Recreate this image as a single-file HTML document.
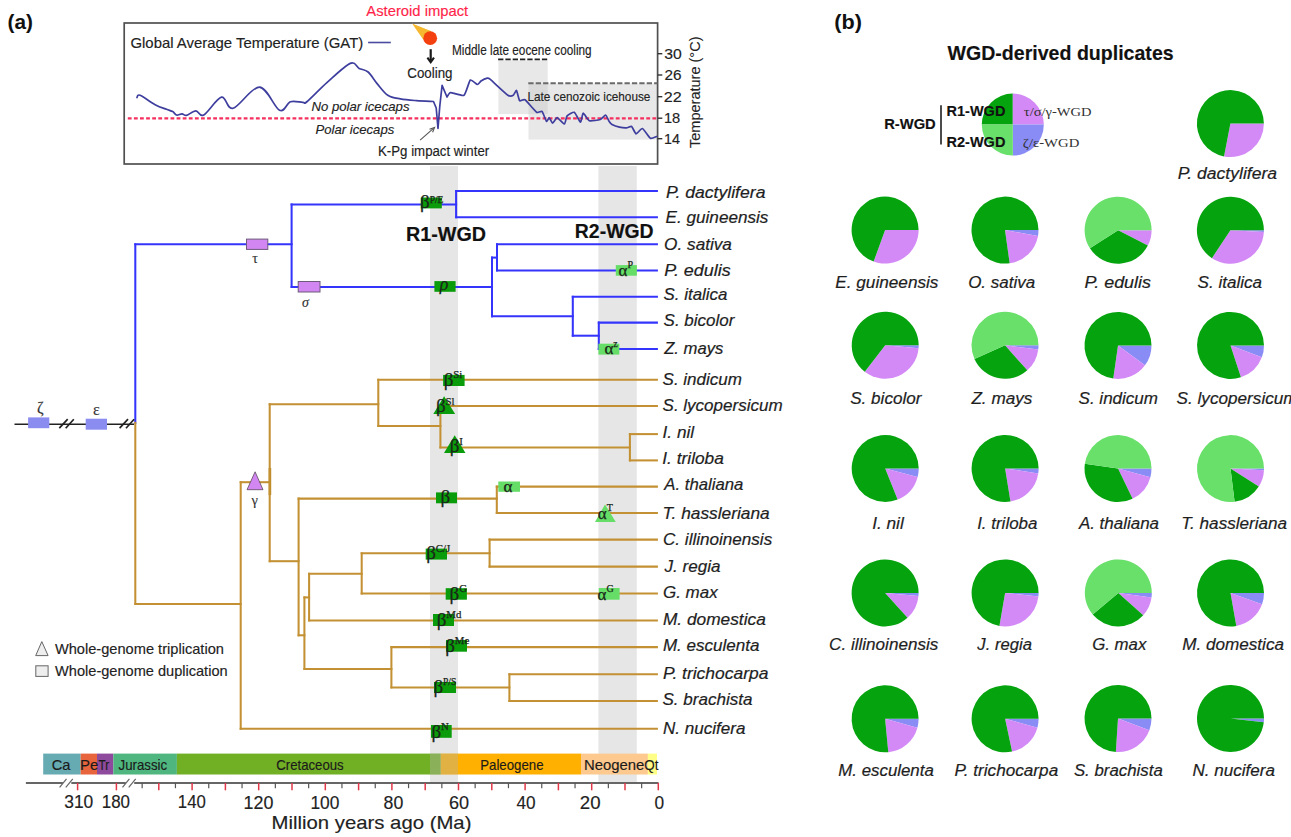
<!DOCTYPE html>
<html><head><meta charset="utf-8"><style>html,body{margin:0;padding:0;background:#fff;overflow:hidden}svg{display:block}</style></head>
<body><svg width="1291" height="837" viewBox="0 0 1291 837">
<rect width="1291" height="837" fill="#fff"/>
<rect x="430.0" y="166" width="28" height="616" fill="#e6e6e6" stroke="none" stroke-width="0" />
<rect x="598.4" y="166" width="38.4" height="616" fill="#e6e6e6" stroke="none" stroke-width="0" />
<rect x="498.4" y="60.3" width="49.3" height="53.8" fill="#e8e8e8" stroke="none" stroke-width="0" />
<rect x="528.5" y="83.6" width="129.1" height="56" fill="#e8e8e8" stroke="none" stroke-width="0" />
<rect x="528.5" y="83.6" width="19.2" height="30.5" fill="#dadada" stroke="none" stroke-width="0" />
<rect x="124.2" y="23" width="533.4" height="141" fill="none" stroke="#505050" stroke-width="1.7"/>
<line x1="498.1" y1="59.3" x2="548" y2="59.3" stroke="#222" stroke-width="1.7" stroke-dasharray="5.3 2.0"/>
<line x1="528.3" y1="83.3" x2="657.6" y2="83.3" stroke="#6a6a6a" stroke-width="1.9" stroke-dasharray="5.3 2.1"/>
<line x1="127.8" y1="118.4" x2="657" y2="118.4" stroke="#f5305f" stroke-width="2.2" stroke-dasharray="3.8 2.3"/>
<path d="M137,97.5 C137.52,97.13 137.00,94.07 140.1,95.3 C143.20,96.53 151.20,102.57 155.6,104.9 C160.00,107.23 163.65,108.18 166.5,109.3 C169.35,110.42 171.03,110.65 172.7,111.6 C174.37,112.55 174.95,114.62 176.5,115 C178.05,115.38 180.32,113.85 182,113.9 C183.68,113.95 184.28,115.82 186.6,115.3 C188.92,114.78 193.05,110.85 195.9,110.8 C198.75,110.75 199.43,117.27 203.7,115 C207.97,112.73 216.60,98.32 221.5,97.2 C226.40,96.08 226.78,109.98 233.1,108.3 C239.42,106.62 251.65,86.77 259.4,87.1 C267.15,87.43 274.43,107.85 279.6,110.3 C284.77,112.75 286.53,103.12 290.4,101.8 C294.27,100.48 300.00,102.45 302.8,102.4 C305.60,102.35 303.18,104.78 307.2,101.5 C311.22,98.22 319.73,89.05 326.9,82.7 C334.07,76.35 344.83,65.78 350.2,63.4 C355.57,61.02 356.12,66.97 359.1,68.4 C362.08,69.83 365.10,69.47 368.1,72 C371.10,74.53 373.82,79.72 377.1,83.6 C380.38,87.48 383.92,92.75 387.8,95.3 C391.68,97.85 395.62,98.02 400.4,98.9 C405.18,99.78 410.98,100.17 416.5,100.6 C422.02,101.03 430.67,101.35 433.5,101.5 L436.2,108 L438,128.4 L439.8,106 L442.1,85.4 L447,97  C447.29,96.63 449.08,92.74 450.5,92.6 C451.92,92.46 462.35,96.35 464,95.3 C465.65,94.25 469.18,80.90 470.3,80 C471.42,79.10 476.51,84.42 477.4,84.5 C478.29,84.58 480.18,81.53 481,81 C481.82,80.47 486.55,78.35 487.3,78.2 C488.05,78.05 488.28,77.78 490,79.2 C491.72,80.62 505.96,93.96 507.9,95.3 C509.84,96.64 512.58,95.70 513.3,95.3 C514.02,94.90 515.98,90.05 516.5,90.5 C517.02,90.95 518.89,99.92 519.6,100.7 C520.31,101.48 523.58,98.83 525,99.8 C526.42,100.77 535.18,111.33 536.6,112.3 C538.02,113.27 541.17,110.65 542,111.4 C542.83,112.15 545.90,120.77 546.5,121.3 C547.10,121.83 548.68,117.55 549.2,117.7 C549.72,117.85 552.03,123.10 552.7,123.1 C553.37,123.10 556.23,117.62 557.2,117.7 C558.18,117.78 563.57,124.15 564.4,124 C565.23,123.85 566.27,116.88 567.1,115.9 C567.93,114.93 573.18,111.77 574.3,112.3 C575.42,112.83 579.76,122.12 580.5,122.2 C581.24,122.28 582.45,113.32 583.2,113.2 C583.95,113.08 588.08,120.27 589.5,120.8 C590.92,121.33 598.96,119.98 600.3,119.5 C601.64,119.02 604.86,114.83 605.6,115 C606.34,115.17 608.67,120.71 609.2,121.5 C609.73,122.29 611.14,124.03 612,124.5 C612.86,124.97 618.29,126.92 619.5,127.2 C620.71,127.48 625.49,127.96 626.5,127.9 C627.51,127.84 630.80,126.01 631.6,126.5 C632.40,126.99 635.20,133.63 636.1,133.8 C637.00,133.97 641.21,128.12 642.4,128.5 C643.59,128.88 649.21,137.63 650.4,138.3 C651.59,138.97 656.18,136.65 656.7,136.5" fill="none" stroke="#3e3e9e" stroke-width="1.7" stroke-linejoin="round" stroke-linecap="round"/>
<line x1="368.1" y1="42.5" x2="390.8" y2="42.5" stroke="#4a4aa0" stroke-width="1.6" />
<path d="M412.1,23.4 L431.5,31.3 L423.5,40 Z" fill="#f5b82e"/>
<circle cx="430.2" cy="38.2" r="6.9" fill="#f4400e"/>
<line x1="430.7" y1="49.2" x2="430.7" y2="61.5" stroke="#1a1a1a" stroke-width="2.2" />
<path d="M427.4,57.6 L430.7,62.2 L434,57.6" fill="none" stroke="#1a1a1a" stroke-width="2.1" stroke-linejoin="miter"/>
<line x1="420.1" y1="140.1" x2="433.5" y2="128.3" stroke="#555" stroke-width="1.1" />
<path d="M429.5,129.2 L434.6,127.4 L432.6,132.3" fill="none" stroke="#555" stroke-width="1.1"/>
<line x1="657.6" y1="53.7" x2="662.3" y2="53.7" stroke="#333" stroke-width="1.4" />
<line x1="657.6" y1="75" x2="662.3" y2="75" stroke="#333" stroke-width="1.4" />
<line x1="657.6" y1="96.7" x2="662.3" y2="96.7" stroke="#333" stroke-width="1.4" />
<line x1="657.6" y1="118.2" x2="662.3" y2="118.2" stroke="#333" stroke-width="1.4" />
<line x1="657.6" y1="138.7" x2="662.3" y2="138.7" stroke="#333" stroke-width="1.4" />
<text transform="translate(699.6,148) rotate(-90)" font-size="14.4" fill="#222" stroke="#222" stroke-width="0.12" font-family="Liberation Sans, sans-serif" textLength="111.5" lengthAdjust="spacingAndGlyphs">Temperature (°C)</text>
<line x1="135.3" y1="244.3" x2="135.3" y2="422.9" stroke="#3434fc" stroke-width="2.05" stroke-linecap="square"/>
<line x1="135.3" y1="244.3" x2="291.6" y2="244.3" stroke="#3434fc" stroke-width="2.05" stroke-linecap="square"/>
<line x1="291.6" y1="204.5" x2="291.6" y2="286.9" stroke="#3434fc" stroke-width="2.05" stroke-linecap="square"/>
<line x1="291.6" y1="204.5" x2="456.1" y2="204.5" stroke="#3434fc" stroke-width="2.05" stroke-linecap="square"/>
<line x1="456.1" y1="191" x2="456.1" y2="217.2" stroke="#3434fc" stroke-width="2.05" stroke-linecap="square"/>
<line x1="456.1" y1="191" x2="656.9" y2="191" stroke="#3434fc" stroke-width="2.05" stroke-linecap="square"/>
<line x1="456.1" y1="217.2" x2="656.9" y2="217.2" stroke="#3434fc" stroke-width="2.05" stroke-linecap="square"/>
<line x1="291.6" y1="286.9" x2="492" y2="286.9" stroke="#3434fc" stroke-width="2.05" stroke-linecap="square"/>
<line x1="492" y1="257.6" x2="492" y2="316.3" stroke="#3434fc" stroke-width="2.05" stroke-linecap="square"/>
<line x1="492" y1="257.6" x2="497" y2="257.6" stroke="#3434fc" stroke-width="2.05" stroke-linecap="square"/>
<line x1="497" y1="244.3" x2="497" y2="270.4" stroke="#3434fc" stroke-width="2.05" stroke-linecap="square"/>
<line x1="497" y1="244.3" x2="656.9" y2="244.3" stroke="#3434fc" stroke-width="2.05" stroke-linecap="square"/>
<line x1="497" y1="270.4" x2="656.9" y2="270.4" stroke="#3434fc" stroke-width="2.05" stroke-linecap="square"/>
<line x1="492" y1="316.3" x2="572.8" y2="316.3" stroke="#3434fc" stroke-width="2.05" stroke-linecap="square"/>
<line x1="572.8" y1="296.8" x2="572.8" y2="335.7" stroke="#3434fc" stroke-width="2.05" stroke-linecap="square"/>
<line x1="572.8" y1="296.8" x2="656.9" y2="296.8" stroke="#3434fc" stroke-width="2.05" stroke-linecap="square"/>
<line x1="572.8" y1="335.7" x2="598.8" y2="335.7" stroke="#3434fc" stroke-width="2.05" stroke-linecap="square"/>
<line x1="598.8" y1="322.6" x2="598.8" y2="348.9" stroke="#3434fc" stroke-width="2.05" stroke-linecap="square"/>
<line x1="598.8" y1="322.6" x2="656.9" y2="322.6" stroke="#3434fc" stroke-width="2.05" stroke-linecap="square"/>
<line x1="598.8" y1="348.9" x2="656.9" y2="348.9" stroke="#3434fc" stroke-width="2.05" stroke-linecap="square"/>
<line x1="135.3" y1="422.9" x2="135.3" y2="603.9" stroke="#c39133" stroke-width="2.05" stroke-linecap="square"/>
<line x1="135.3" y1="603.9" x2="240.7" y2="603.9" stroke="#c39133" stroke-width="2.05" stroke-linecap="square"/>
<line x1="240.7" y1="482.2" x2="240.7" y2="728.8" stroke="#c39133" stroke-width="2.05" stroke-linecap="square"/>
<line x1="240.7" y1="728.8" x2="656.9" y2="728.8" stroke="#c39133" stroke-width="2.05" stroke-linecap="square"/>
<line x1="240.7" y1="482.2" x2="269.7" y2="482.2" stroke="#c39133" stroke-width="2.05" stroke-linecap="square"/>
<line x1="269.9" y1="467.9" x2="269.9" y2="495.1" stroke="#b8861e" stroke-width="2.6" />
<line x1="269.7" y1="404.2" x2="269.7" y2="561.2" stroke="#c39133" stroke-width="2.05" stroke-linecap="square"/>
<line x1="269.7" y1="404.2" x2="378.3" y2="404.2" stroke="#c39133" stroke-width="2.05" stroke-linecap="square"/>
<line x1="378.3" y1="379.8" x2="378.3" y2="426" stroke="#c39133" stroke-width="2.05" stroke-linecap="square"/>
<line x1="378.3" y1="379.8" x2="656.9" y2="379.8" stroke="#c39133" stroke-width="2.05" stroke-linecap="square"/>
<line x1="378.3" y1="426" x2="440.4" y2="426" stroke="#c39133" stroke-width="2.05" stroke-linecap="square"/>
<line x1="440.4" y1="406" x2="440.4" y2="447.4" stroke="#c39133" stroke-width="2.05" stroke-linecap="square"/>
<line x1="440.4" y1="406" x2="656.9" y2="406" stroke="#c39133" stroke-width="2.05" stroke-linecap="square"/>
<line x1="440.4" y1="447.4" x2="629.9" y2="447.4" stroke="#c39133" stroke-width="2.05" stroke-linecap="square"/>
<line x1="629.9" y1="434.1" x2="629.9" y2="460.4" stroke="#c39133" stroke-width="2.05" stroke-linecap="square"/>
<line x1="629.9" y1="434.1" x2="656.9" y2="434.1" stroke="#c39133" stroke-width="2.05" stroke-linecap="square"/>
<line x1="629.9" y1="460.4" x2="656.9" y2="460.4" stroke="#c39133" stroke-width="2.05" stroke-linecap="square"/>
<line x1="269.7" y1="561.2" x2="298.6" y2="561.2" stroke="#c39133" stroke-width="2.05" stroke-linecap="square"/>
<line x1="298.6" y1="498.6" x2="298.6" y2="635.3" stroke="#c39133" stroke-width="2.05" stroke-linecap="square"/>
<line x1="298.6" y1="498.6" x2="496.8" y2="498.6" stroke="#c39133" stroke-width="2.05" stroke-linecap="square"/>
<line x1="496.8" y1="486.6" x2="496.8" y2="513" stroke="#c39133" stroke-width="2.05" stroke-linecap="square"/>
<line x1="496.8" y1="486.6" x2="656.9" y2="486.6" stroke="#c39133" stroke-width="2.05" stroke-linecap="square"/>
<line x1="496.8" y1="513" x2="656.9" y2="513" stroke="#c39133" stroke-width="2.05" stroke-linecap="square"/>
<line x1="298.6" y1="635.3" x2="304.4" y2="635.3" stroke="#c39133" stroke-width="2.05" stroke-linecap="square"/>
<line x1="304.4" y1="597.4" x2="304.4" y2="668.9" stroke="#c39133" stroke-width="2.05" stroke-linecap="square"/>
<line x1="304.4" y1="597.4" x2="309.1" y2="597.4" stroke="#c39133" stroke-width="2.05" stroke-linecap="square"/>
<line x1="309.1" y1="573.8" x2="309.1" y2="620.4" stroke="#c39133" stroke-width="2.05" stroke-linecap="square"/>
<line x1="309.1" y1="620.4" x2="656.9" y2="620.4" stroke="#c39133" stroke-width="2.05" stroke-linecap="square"/>
<line x1="309.1" y1="573.8" x2="361.7" y2="573.8" stroke="#c39133" stroke-width="2.05" stroke-linecap="square"/>
<line x1="361.7" y1="553.3" x2="361.7" y2="593.5" stroke="#c39133" stroke-width="2.05" stroke-linecap="square"/>
<line x1="361.7" y1="593.5" x2="656.9" y2="593.5" stroke="#c39133" stroke-width="2.05" stroke-linecap="square"/>
<line x1="361.7" y1="553.3" x2="489.6" y2="553.3" stroke="#c39133" stroke-width="2.05" stroke-linecap="square"/>
<line x1="489.6" y1="539.6" x2="489.6" y2="566.6" stroke="#c39133" stroke-width="2.05" stroke-linecap="square"/>
<line x1="489.6" y1="539.6" x2="656.9" y2="539.6" stroke="#c39133" stroke-width="2.05" stroke-linecap="square"/>
<line x1="489.6" y1="566.6" x2="656.9" y2="566.6" stroke="#c39133" stroke-width="2.05" stroke-linecap="square"/>
<line x1="304.4" y1="668.9" x2="391.4" y2="668.9" stroke="#c39133" stroke-width="2.05" stroke-linecap="square"/>
<line x1="391.4" y1="647.1" x2="391.4" y2="687.4" stroke="#c39133" stroke-width="2.05" stroke-linecap="square"/>
<line x1="391.4" y1="647.1" x2="656.9" y2="647.1" stroke="#c39133" stroke-width="2.05" stroke-linecap="square"/>
<line x1="391.4" y1="687.4" x2="509.4" y2="687.4" stroke="#c39133" stroke-width="2.05" stroke-linecap="square"/>
<line x1="509.4" y1="674.3" x2="509.4" y2="701" stroke="#c39133" stroke-width="2.05" stroke-linecap="square"/>
<line x1="509.4" y1="674.3" x2="656.9" y2="674.3" stroke="#c39133" stroke-width="2.05" stroke-linecap="square"/>
<line x1="509.4" y1="701" x2="656.9" y2="701" stroke="#c39133" stroke-width="2.05" stroke-linecap="square"/>
<line x1="14.5" y1="424.2" x2="134" y2="424.2" stroke="#222" stroke-width="1.5" />
<rect x="28.1" y="417.4" width="21.2" height="10.8" fill="#8a8cf0" stroke="none" stroke-width="0" />
<rect x="85.7" y="418.7" width="21.3" height="11" fill="#8a8cf0" stroke="none" stroke-width="0" />
<line x1="59.3" y1="428.2" x2="67.7" y2="419.2" stroke="#222" stroke-width="1.7" />
<line x1="65.7" y1="428.2" x2="73.8" y2="419.2" stroke="#222" stroke-width="1.7" />
<line x1="119.6" y1="428.2" x2="128.0" y2="419.2" stroke="#222" stroke-width="1.7" />
<line x1="126.0" y1="428.2" x2="134.1" y2="419.2" stroke="#222" stroke-width="1.7" />
<text x="40.2" y="412.5" font-size="16" fill="#333" text-anchor="middle" font-weight="normal" font-style="normal" font-family="Liberation Serif, serif" stroke="#333" stroke-width="0.15" >ζ</text>
<text x="96.4" y="415.2" font-size="16" fill="#333" text-anchor="middle" font-weight="normal" font-style="normal" font-family="Liberation Serif, serif" stroke="#333" stroke-width="0.15" >ε</text>
<rect x="246.5" y="239.1" width="21.3" height="10.3" fill="#d286f2" stroke="#6e5a7a" stroke-width="1" />
<rect x="298.2" y="281.5" width="21.8" height="10.5" fill="#d286f2" stroke="#6e5a7a" stroke-width="1" />
<text x="255" y="263" font-size="14" fill="#333" text-anchor="middle" font-weight="normal" font-style="normal" font-family="Liberation Serif, serif" stroke="#333" stroke-width="0.15" >τ</text>
<text x="305.5" y="307" font-size="14" fill="#333" text-anchor="middle" font-weight="normal" font-style="italic" font-family="Liberation Serif, serif" stroke="#333" stroke-width="0.15" >σ</text>
<path d="M255.1,471.8 L263,489.7 L247,489.7 Z" fill="#d286f2" stroke="#5a4a5a" stroke-width="0.8"/>
<text x="254.6" y="505" font-size="14.5" fill="#333" text-anchor="middle" font-weight="normal" font-style="normal" font-family="Liberation Serif, serif" stroke="#333" stroke-width="0.1" >γ</text>
<rect x="420.8" y="197.5" width="21.0" height="10.9" fill="#0a9c0a" stroke="none" stroke-width="0" />
<text x="419.98" y="208.2" font-size="19" fill="#1a261a" font-family="Liberation Serif, serif" stroke="#1a261a" stroke-width="0.25">β<tspan font-size="9.5" dy="-5.5">P/E</tspan></text>
<rect x="434.4" y="281.1" width="21.2" height="10.7" fill="#0a9c0a" stroke="none" stroke-width="0" />
<text x="439.75" y="290.4" font-size="18" fill="#1a261a" font-style="italic" font-family="Liberation Serif, serif" stroke="#1a261a" stroke-width="0.25">ρ</text>
<rect x="615.8" y="265.1" width="21.1" height="10.6" fill="#66dd66" stroke="none" stroke-width="0" />
<text x="618.61" y="275.5" font-size="17" fill="#1a261a" font-family="Liberation Serif, serif" stroke="#1a261a" stroke-width="0.25">α<tspan font-size="10" dy="-7.7">P</tspan></text>
<rect x="598.4" y="343.7" width="20.9" height="10.9" fill="#66dd66" stroke="none" stroke-width="0" />
<text x="604.41" y="354.4" font-size="17" fill="#1a261a" font-family="Liberation Serif, serif" stroke="#1a261a" stroke-width="0.25">α<tspan font-size="10" dy="-7.7">z</tspan></text>
<rect x="443.1" y="374.9" width="21.5" height="11.1" fill="#0a9c0a" stroke="none" stroke-width="0" />
<text x="443.68" y="385.8" font-size="19" fill="#1a261a" font-family="Liberation Serif, serif" stroke="#1a261a" stroke-width="0.25">β<tspan font-size="10.8" dy="-7.7">Si</tspan></text>
<path d="M444.1,396.3 L455.1,413.9 L433.3,413.9 Z" fill="#0a9c0a"/>
<text x="435.88" y="412.3" font-size="19" fill="#1a261a" font-family="Liberation Serif, serif" stroke="#1a261a" stroke-width="0.25">β<tspan font-size="10.8" dy="-7.7">Sl</tspan></text>
<path d="M454.7,435.3 L465.5,453 L444,453 Z" fill="#0a9c0a"/>
<text x="449.68" y="452.2" font-size="19" fill="#1a261a" font-family="Liberation Serif, serif" stroke="#1a261a" stroke-width="0.25">β<tspan font-size="10.8" dy="-7.7">I</tspan></text>
<rect x="436" y="492.4" width="21" height="10.9" fill="#0a9c0a" stroke="none" stroke-width="0" />
<text x="440.38" y="503.1" font-size="19" fill="#1a261a" font-family="Liberation Serif, serif" stroke="#1a261a" stroke-width="0.25">β</text>
<rect x="498.3" y="481.5" width="21.7" height="10.3" fill="#66dd66" stroke="none" stroke-width="0" />
<text x="503.51" y="491.6" font-size="17" fill="#1a261a" font-family="Liberation Serif, serif" stroke="#1a261a" stroke-width="0.25">α</text>
<path d="M605,504.4 L615.8,522 L595,522 Z" fill="#66dd66"/>
<text x="597.71" y="518.5" font-size="17" fill="#1a261a" font-family="Liberation Serif, serif" stroke="#1a261a" stroke-width="0.25">α<tspan font-size="10" dy="-7.7">T</tspan></text>
<rect x="425.7" y="548.6" width="21.3" height="11.0" fill="#0a9c0a" stroke="none" stroke-width="0" />
<text x="426.18" y="559.4" font-size="19" fill="#1a261a" font-family="Liberation Serif, serif" stroke="#1a261a" stroke-width="0.25">β<tspan font-size="10.8" dy="-7.7">C/J</tspan></text>
<rect x="445.7" y="588.2" width="21.2" height="11.5" fill="#0a9c0a" stroke="none" stroke-width="0" />
<text x="449.53" y="599.5" font-size="19" fill="#1a261a" font-family="Liberation Serif, serif" stroke="#1a261a" stroke-width="0.25">β<tspan font-size="10.8" dy="-7.7">G</tspan></text>
<rect x="598.8" y="588" width="20.8" height="11.7" fill="#66dd66" stroke="none" stroke-width="0" />
<text x="597.51" y="599.5" font-size="17" fill="#1a261a" font-family="Liberation Serif, serif" stroke="#1a261a" stroke-width="0.25">α<tspan font-size="10" dy="-7.7">G</tspan></text>
<rect x="433" y="614" width="21" height="12" fill="#0a9c0a" stroke="none" stroke-width="0" />
<text x="436.68" y="625.8" font-size="19" fill="#1a261a" font-family="Liberation Serif, serif" stroke="#1a261a" stroke-width="0.25">β<tspan font-size="10.8" dy="-7.7">Md</tspan></text>
<rect x="446" y="640" width="21" height="11.7" fill="#0a9c0a" stroke="none" stroke-width="0" />
<text x="445.18" y="651.5" font-size="19" fill="#1a261a" font-family="Liberation Serif, serif" stroke="#1a261a" stroke-width="0.25">β<tspan font-size="10.8" dy="-7.7">Me</tspan></text>
<rect x="434" y="682" width="22" height="11" fill="#0a9c0a" stroke="none" stroke-width="0" />
<text x="433.38" y="692.8" font-size="19" fill="#1a261a" font-family="Liberation Serif, serif" stroke="#1a261a" stroke-width="0.25">β<tspan font-size="9.5" dy="-7.7">P/S</tspan></text>
<rect x="431" y="725" width="20.7" height="12.8" fill="#0a9c0a" stroke="none" stroke-width="0" />
<text x="431.38" y="737.6" font-size="19" fill="#1a261a" font-family="Liberation Serif, serif" stroke="#1a261a" stroke-width="0.25">β<tspan font-size="10.8" dy="-7.7">N</tspan></text>
<text x="666.0" y="197.5" font-size="17" fill="#1e1e1e" text-anchor="start" font-weight="normal" font-style="italic" font-family="Liberation Sans, sans-serif" textLength="99.43" lengthAdjust="spacingAndGlyphs" stroke="#1e1e1e" stroke-width="0.2" >P. dactylifera</text>
<text x="665.6" y="223.1" font-size="17" fill="#1e1e1e" text-anchor="start" font-weight="normal" font-style="italic" font-family="Liberation Sans, sans-serif" textLength="102.78" lengthAdjust="spacingAndGlyphs" stroke="#1e1e1e" stroke-width="0.2" >E. guineensis</text>
<text x="664.12" y="249.7" font-size="17" fill="#1e1e1e" text-anchor="start" font-weight="normal" font-style="italic" font-family="Liberation Sans, sans-serif" textLength="67.84" lengthAdjust="spacingAndGlyphs" stroke="#1e1e1e" stroke-width="0.2" >O. sativa</text>
<text x="664.24" y="275.7" font-size="17" fill="#1e1e1e" text-anchor="start" font-weight="normal" font-style="italic" font-family="Liberation Sans, sans-serif" textLength="66.51" lengthAdjust="spacingAndGlyphs" stroke="#1e1e1e" stroke-width="0.2" >P. edulis</text>
<text x="663.6" y="300.3" font-size="17" fill="#1e1e1e" text-anchor="start" font-weight="normal" font-style="italic" font-family="Liberation Sans, sans-serif" textLength="63.79" lengthAdjust="spacingAndGlyphs" stroke="#1e1e1e" stroke-width="0.2" >S. italica</text>
<text x="663.6" y="326.1" font-size="17" fill="#1e1e1e" text-anchor="start" font-weight="normal" font-style="italic" font-family="Liberation Sans, sans-serif" textLength="70.83" lengthAdjust="spacingAndGlyphs" stroke="#1e1e1e" stroke-width="0.2" >S. bicolor</text>
<text x="664.2" y="354.3" font-size="17" fill="#1e1e1e" text-anchor="start" font-weight="normal" font-style="italic" font-family="Liberation Sans, sans-serif" textLength="59.22" lengthAdjust="spacingAndGlyphs" stroke="#1e1e1e" stroke-width="0.2" >Z. mays</text>
<text x="662.56" y="384.7" font-size="17" fill="#1e1e1e" text-anchor="start" font-weight="normal" font-style="italic" font-family="Liberation Sans, sans-serif" textLength="79.34" lengthAdjust="spacingAndGlyphs" stroke="#1e1e1e" stroke-width="0.2" >S. indicum</text>
<text x="662.56" y="410.7" font-size="17" fill="#1e1e1e" text-anchor="start" font-weight="normal" font-style="italic" font-family="Liberation Sans, sans-serif" textLength="120.01" lengthAdjust="spacingAndGlyphs" stroke="#1e1e1e" stroke-width="0.2" >S. lycopersicum</text>
<text x="662.6" y="438.3" font-size="17" fill="#1e1e1e" text-anchor="start" font-weight="normal" font-style="italic" font-family="Liberation Sans, sans-serif" textLength="31.46" lengthAdjust="spacingAndGlyphs" stroke="#1e1e1e" stroke-width="0.2" >I. nil</text>
<text x="662.3" y="463.9" font-size="17" fill="#1e1e1e" text-anchor="start" font-weight="normal" font-style="italic" font-family="Liberation Sans, sans-serif" textLength="61.58" lengthAdjust="spacingAndGlyphs" stroke="#1e1e1e" stroke-width="0.2" >I. triloba</text>
<text x="664.3" y="490.3" font-size="17" fill="#1e1e1e" text-anchor="start" font-weight="normal" font-style="italic" font-family="Liberation Sans, sans-serif" textLength="79.04" lengthAdjust="spacingAndGlyphs" stroke="#1e1e1e" stroke-width="0.2" >A. thaliana</text>
<text x="662.6" y="518.6" font-size="17" fill="#1e1e1e" text-anchor="start" font-weight="normal" font-style="italic" font-family="Liberation Sans, sans-serif" textLength="107.09" lengthAdjust="spacingAndGlyphs" stroke="#1e1e1e" stroke-width="0.2" >T. hassleriana</text>
<text x="663.0" y="544.7" font-size="17" fill="#1e1e1e" text-anchor="start" font-weight="normal" font-style="italic" font-family="Liberation Sans, sans-serif" textLength="109.22" lengthAdjust="spacingAndGlyphs" stroke="#1e1e1e" stroke-width="0.2" >C. illinoinensis</text>
<text x="664.56" y="571.7" font-size="17" fill="#1e1e1e" text-anchor="start" font-weight="normal" font-style="italic" font-family="Liberation Sans, sans-serif" textLength="55.96" lengthAdjust="spacingAndGlyphs" stroke="#1e1e1e" stroke-width="0.2" >J. regia</text>
<text x="663.0" y="598.1" font-size="17" fill="#1e1e1e" text-anchor="start" font-weight="normal" font-style="italic" font-family="Liberation Sans, sans-serif" textLength="54.61" lengthAdjust="spacingAndGlyphs" stroke="#1e1e1e" stroke-width="0.2" >G. max</text>
<text x="662.9" y="625.1" font-size="17" fill="#1e1e1e" text-anchor="start" font-weight="normal" font-style="italic" font-family="Liberation Sans, sans-serif" textLength="102.89" lengthAdjust="spacingAndGlyphs" stroke="#1e1e1e" stroke-width="0.2" >M. domestica</text>
<text x="662.9" y="651.0" font-size="17" fill="#1e1e1e" text-anchor="start" font-weight="normal" font-style="italic" font-family="Liberation Sans, sans-serif" textLength="96.65" lengthAdjust="spacingAndGlyphs" stroke="#1e1e1e" stroke-width="0.2" >M. esculenta</text>
<text x="663.0" y="678.6" font-size="17" fill="#1e1e1e" text-anchor="start" font-weight="normal" font-style="italic" font-family="Liberation Sans, sans-serif" textLength="105.42" lengthAdjust="spacingAndGlyphs" stroke="#1e1e1e" stroke-width="0.2" >P. trichocarpa</text>
<text x="662.46" y="705.1" font-size="17" fill="#1e1e1e" text-anchor="start" font-weight="normal" font-style="italic" font-family="Liberation Sans, sans-serif" textLength="90.16" lengthAdjust="spacingAndGlyphs" stroke="#1e1e1e" stroke-width="0.2" >S. brachista</text>
<text x="663.0" y="734.3" font-size="17" fill="#1e1e1e" text-anchor="start" font-weight="normal" font-style="italic" font-family="Liberation Sans, sans-serif" textLength="82.43" lengthAdjust="spacingAndGlyphs" stroke="#1e1e1e" stroke-width="0.2" >N. nucifera</text>
<path d="M41.8,641.6 L48.1,655.6 L35.7,655.6 Z" fill="#eee" stroke="#666" stroke-width="1"/>
<rect x="35.8" y="665.8" width="12.3" height="10.6" fill="#eee" stroke="#666" stroke-width="1" />
<rect x="43.2" y="753.6" width="37.5" height="20.9" fill="#66aab2" stroke="none" stroke-width="0" />
<rect x="80.7" y="753.6" width="16.299999999999997" height="20.9" fill="#e8643c" stroke="none" stroke-width="0" />
<rect x="97" y="753.6" width="16.299999999999997" height="20.9" fill="#8e4a9c" stroke="none" stroke-width="0" />
<rect x="113.3" y="753.6" width="63.60000000000001" height="20.9" fill="#4fb680" stroke="none" stroke-width="0" />
<rect x="176.9" y="753.6" width="263.9" height="20.9" fill="#71af25" stroke="none" stroke-width="0" />
<rect x="440.8" y="753.6" width="140.2" height="20.9" fill="#ffb000" stroke="none" stroke-width="0" />
<rect x="581" y="753.6" width="66.89999999999998" height="20.9" fill="#fdc98e" stroke="none" stroke-width="0" />
<rect x="647.9" y="753.6" width="9.100000000000023" height="20.9" fill="#ffff88" stroke="none" stroke-width="0" />
<rect x="430.0" y="753.6" width="28" height="20.9" fill="rgba(178,178,178,0.38)" stroke="none" stroke-width="0" />
<line x1="25.9" y1="782.9" x2="658.5" y2="782.9" stroke="#333" stroke-width="1.5" />
<line x1="658.3" y1="782.9" x2="658.3" y2="790.3" stroke="#e03848" stroke-width="1.5" />
<line x1="641.65" y1="782.9" x2="641.65" y2="788.2" stroke="#555" stroke-width="1.2" />
<line x1="625.0" y1="782.9" x2="625.0" y2="790.3" stroke="#e03848" stroke-width="1.5" />
<line x1="608.3499999999999" y1="782.9" x2="608.3499999999999" y2="788.2" stroke="#555" stroke-width="1.2" />
<line x1="591.6999999999999" y1="782.9" x2="591.6999999999999" y2="790.3" stroke="#e03848" stroke-width="1.5" />
<line x1="575.05" y1="782.9" x2="575.05" y2="788.2" stroke="#555" stroke-width="1.2" />
<line x1="558.4" y1="782.9" x2="558.4" y2="790.3" stroke="#e03848" stroke-width="1.5" />
<line x1="541.75" y1="782.9" x2="541.75" y2="788.2" stroke="#555" stroke-width="1.2" />
<line x1="525.0999999999999" y1="782.9" x2="525.0999999999999" y2="790.3" stroke="#e03848" stroke-width="1.5" />
<line x1="508.44999999999993" y1="782.9" x2="508.44999999999993" y2="788.2" stroke="#555" stroke-width="1.2" />
<line x1="491.79999999999995" y1="782.9" x2="491.79999999999995" y2="790.3" stroke="#e03848" stroke-width="1.5" />
<line x1="475.15" y1="782.9" x2="475.15" y2="788.2" stroke="#555" stroke-width="1.2" />
<line x1="458.49999999999994" y1="782.9" x2="458.49999999999994" y2="790.3" stroke="#e03848" stroke-width="1.5" />
<line x1="441.8499999999999" y1="782.9" x2="441.8499999999999" y2="788.2" stroke="#555" stroke-width="1.2" />
<line x1="425.19999999999993" y1="782.9" x2="425.19999999999993" y2="790.3" stroke="#e03848" stroke-width="1.5" />
<line x1="408.54999999999995" y1="782.9" x2="408.54999999999995" y2="788.2" stroke="#555" stroke-width="1.2" />
<line x1="391.9" y1="782.9" x2="391.9" y2="790.3" stroke="#e03848" stroke-width="1.5" />
<line x1="375.24999999999994" y1="782.9" x2="375.24999999999994" y2="788.2" stroke="#555" stroke-width="1.2" />
<line x1="358.59999999999997" y1="782.9" x2="358.59999999999997" y2="790.3" stroke="#e03848" stroke-width="1.5" />
<line x1="341.94999999999993" y1="782.9" x2="341.94999999999993" y2="788.2" stroke="#555" stroke-width="1.2" />
<line x1="325.29999999999995" y1="782.9" x2="325.29999999999995" y2="790.3" stroke="#e03848" stroke-width="1.5" />
<line x1="308.6499999999999" y1="782.9" x2="308.6499999999999" y2="788.2" stroke="#555" stroke-width="1.2" />
<line x1="291.99999999999994" y1="782.9" x2="291.99999999999994" y2="790.3" stroke="#e03848" stroke-width="1.5" />
<line x1="275.34999999999997" y1="782.9" x2="275.34999999999997" y2="788.2" stroke="#555" stroke-width="1.2" />
<line x1="258.69999999999993" y1="782.9" x2="258.69999999999993" y2="790.3" stroke="#e03848" stroke-width="1.5" />
<line x1="242.04999999999995" y1="782.9" x2="242.04999999999995" y2="788.2" stroke="#555" stroke-width="1.2" />
<line x1="225.39999999999992" y1="782.9" x2="225.39999999999992" y2="790.3" stroke="#e03848" stroke-width="1.5" />
<line x1="208.74999999999994" y1="782.9" x2="208.74999999999994" y2="788.2" stroke="#555" stroke-width="1.2" />
<line x1="192.09999999999997" y1="782.9" x2="192.09999999999997" y2="790.3" stroke="#e03848" stroke-width="1.5" />
<line x1="175.44999999999993" y1="782.9" x2="175.44999999999993" y2="788.2" stroke="#555" stroke-width="1.2" />
<line x1="158.79999999999995" y1="782.9" x2="158.79999999999995" y2="790.3" stroke="#e03848" stroke-width="1.5" />
<line x1="142.14999999999998" y1="782.9" x2="142.14999999999998" y2="788.2" stroke="#555" stroke-width="1.2" />
<line x1="77.6" y1="782.9" x2="77.6" y2="790.3" stroke="#e03848" stroke-width="1.5" />
<line x1="116.4" y1="782.9" x2="116.4" y2="790.3" stroke="#e03848" stroke-width="1.5" />
<rect x="62.9" y="780.5" width="8.4" height="5" fill="#fff"/>
<line x1="59.6" y1="787.3" x2="66.5" y2="778.8" stroke="#666" stroke-width="1.2" />
<line x1="65.8" y1="787.3" x2="72.8" y2="778.9" stroke="#666" stroke-width="1.2" />
<rect x="125.8" y="780.5" width="8.4" height="5" fill="#fff"/>
<line x1="122.5" y1="787.3" x2="129.4" y2="778.8" stroke="#666" stroke-width="1.2" />
<line x1="128.7" y1="787.3" x2="135.7" y2="778.9" stroke="#666" stroke-width="1.2" />
<path d="M1230.4,123.6 L1263.90,123.60 A33.5,33.5 0 0 1 1224.01,156.48 Z" fill="#d38af6"/>
<path d="M1230.4,123.6 L1224.01,156.48 A33.5,33.5 0 1 1 1263.90,123.60 Z" fill="#05a40f"/>
<path d="M885.1,230.1 L918.60,230.10 A33.5,33.5 0 0 1 873.64,261.58 Z" fill="#d38af6"/>
<path d="M885.1,230.1 L873.64,261.58 A33.5,33.5 0 1 1 918.60,230.10 Z" fill="#05a40f"/>
<path d="M1005,230.1 L1038.50,230.10 A33.5,33.5 0 0 1 1037.99,235.92 Z" fill="#8a8cf5"/>
<path d="M1005,230.1 L1037.99,235.92 A33.5,33.5 0 0 1 1009.66,263.27 Z" fill="#d38af6"/>
<path d="M1005,230.1 L1009.66,263.27 A33.5,33.5 0 1 1 1038.50,230.10 Z" fill="#05a40f"/>
<path d="M1118.1,230.2 L1151.60,230.20 A33.5,33.5 0 0 1 1147.84,245.62 Z" fill="#d38af6"/>
<path d="M1118.1,230.2 L1147.84,245.62 A33.5,33.5 0 0 1 1089.94,248.35 Z" fill="#05a40f"/>
<path d="M1118.1,230.2 L1089.94,248.35 A33.5,33.5 0 1 1 1151.60,230.20 Z" fill="#68e06a"/>
<path d="M1230.4,230.2 L1263.90,230.20 A33.5,33.5 0 0 1 1263.86,231.89 Z" fill="#8a8cf5"/>
<path d="M1230.4,230.2 L1263.86,231.89 A33.5,33.5 0 0 1 1211.91,258.14 Z" fill="#d38af6"/>
<path d="M1230.4,230.2 L1211.91,258.14 A33.5,33.5 0 1 1 1263.90,230.20 Z" fill="#05a40f"/>
<path d="M885.2,345.3 L918.70,345.30 A33.5,33.5 0 0 1 918.57,348.22 Z" fill="#8a8cf5"/>
<path d="M885.2,345.3 L918.57,348.22 A33.5,33.5 0 0 1 864.76,371.84 Z" fill="#d38af6"/>
<path d="M885.2,345.3 L864.76,371.84 A33.5,33.5 0 1 1 918.70,345.30 Z" fill="#05a40f"/>
<path d="M1005,345.3 L1038.50,345.30 A33.5,33.5 0 0 1 1038.24,349.44 Z" fill="#8a8cf5"/>
<path d="M1005,345.3 L1038.24,349.44 A33.5,33.5 0 0 1 1027.29,370.31 Z" fill="#d38af6"/>
<path d="M1005,345.3 L1027.29,370.31 A33.5,33.5 0 0 1 974.44,359.03 Z" fill="#05a40f"/>
<path d="M1005,345.3 L974.44,359.03 A33.5,33.5 0 1 1 1038.50,345.30 Z" fill="#68e06a"/>
<path d="M1118,345.4 L1151.50,345.40 A33.5,33.5 0 0 1 1144.96,365.28 Z" fill="#8a8cf5"/>
<path d="M1118,345.4 L1144.96,365.28 A33.5,33.5 0 0 1 1113.28,378.57 Z" fill="#d38af6"/>
<path d="M1118,345.4 L1113.28,378.57 A33.5,33.5 0 1 1 1151.50,345.40 Z" fill="#05a40f"/>
<path d="M1230.5,345.4 L1264.00,345.40 A33.5,33.5 0 0 1 1261.84,357.24 Z" fill="#8a8cf5"/>
<path d="M1230.5,345.4 L1261.84,357.24 A33.5,33.5 0 0 1 1240.91,377.24 Z" fill="#d38af6"/>
<path d="M1230.5,345.4 L1240.91,377.24 A33.5,33.5 0 1 1 1264.00,345.40 Z" fill="#05a40f"/>
<path d="M885.2,468.4 L918.70,468.40 A33.5,33.5 0 0 1 917.60,476.90 Z" fill="#8a8cf5"/>
<path d="M885.2,468.4 L917.60,476.90 A33.5,33.5 0 0 1 897.59,499.53 Z" fill="#d38af6"/>
<path d="M885.2,468.4 L897.59,499.53 A33.5,33.5 0 1 1 918.70,468.40 Z" fill="#05a40f"/>
<path d="M1005.1,468.4 L1038.60,468.40 A33.5,33.5 0 0 1 1038.22,473.41 Z" fill="#8a8cf5"/>
<path d="M1005.1,468.4 L1038.22,473.41 A33.5,33.5 0 0 1 1010.46,501.47 Z" fill="#d38af6"/>
<path d="M1005.1,468.4 L1010.46,501.47 A33.5,33.5 0 1 1 1038.60,468.40 Z" fill="#05a40f"/>
<path d="M1118,468.6 L1151.50,468.60 A33.5,33.5 0 0 1 1150.39,477.16 Z" fill="#8a8cf5"/>
<path d="M1118,468.6 L1150.39,477.16 A33.5,33.5 0 0 1 1132.58,498.76 Z" fill="#d38af6"/>
<path d="M1118,468.6 L1132.58,498.76 A33.5,33.5 0 0 1 1084.85,463.76 Z" fill="#05a40f"/>
<path d="M1118,468.6 L1084.85,463.76 A33.5,33.5 0 0 1 1151.50,468.60 Z" fill="#68e06a"/>
<path d="M1230.5,468.6 L1264.00,468.60 A33.5,33.5 0 0 1 1263.96,470.18 Z" fill="#8a8cf5"/>
<path d="M1230.5,468.6 L1263.96,470.18 A33.5,33.5 0 0 1 1258.78,486.55 Z" fill="#d38af6"/>
<path d="M1230.5,468.6 L1258.78,486.55 A33.5,33.5 0 0 1 1234.58,501.85 Z" fill="#05a40f"/>
<path d="M1230.5,468.6 L1234.58,501.85 A33.5,33.5 0 1 1 1264.00,468.60 Z" fill="#68e06a"/>
<path d="M885.1,592.9 L918.60,592.90 A33.5,33.5 0 0 1 918.46,595.94 Z" fill="#8a8cf5"/>
<path d="M885.1,592.9 L918.46,595.94 A33.5,33.5 0 0 1 907.52,617.80 Z" fill="#d38af6"/>
<path d="M885.1,592.9 L907.52,617.80 A33.5,33.5 0 1 1 918.60,592.90 Z" fill="#05a40f"/>
<path d="M1005.1,592.9 L1038.60,592.90 A33.5,33.5 0 0 1 1038.40,596.52 Z" fill="#8a8cf5"/>
<path d="M1005.1,592.9 L1038.40,596.52 A33.5,33.5 0 0 1 999.40,625.91 Z" fill="#d38af6"/>
<path d="M1005.1,592.9 L999.40,625.91 A33.5,33.5 0 1 1 1038.60,592.90 Z" fill="#05a40f"/>
<path d="M1118.3,592.9 L1151.80,592.90 A33.5,33.5 0 0 1 1151.50,597.39 Z" fill="#8a8cf5"/>
<path d="M1118.3,592.9 L1151.50,597.39 A33.5,33.5 0 0 1 1143.23,615.27 Z" fill="#d38af6"/>
<path d="M1118.3,592.9 L1143.23,615.27 A33.5,33.5 0 0 1 1092.71,614.52 Z" fill="#05a40f"/>
<path d="M1118.3,592.9 L1092.71,614.52 A33.5,33.5 0 1 1 1151.80,592.90 Z" fill="#68e06a"/>
<path d="M1230.5,592.9 L1264.00,592.90 A33.5,33.5 0 0 1 1262.02,604.25 Z" fill="#8a8cf5"/>
<path d="M1230.5,592.9 L1262.02,604.25 A33.5,33.5 0 0 1 1236.32,625.89 Z" fill="#d38af6"/>
<path d="M1230.5,592.9 L1236.32,625.89 A33.5,33.5 0 1 1 1264.00,592.90 Z" fill="#05a40f"/>
<path d="M885.1,718.8 L918.60,718.80 A33.5,33.5 0 0 1 917.41,727.64 Z" fill="#8a8cf5"/>
<path d="M885.1,718.8 L917.41,727.64 A33.5,33.5 0 0 1 888.31,752.15 Z" fill="#d38af6"/>
<path d="M885.1,718.8 L888.31,752.15 A33.5,33.5 0 1 1 918.60,718.80 Z" fill="#05a40f"/>
<path d="M1005.1,718.8 L1038.60,718.80 A33.5,33.5 0 0 1 1037.41,727.64 Z" fill="#8a8cf5"/>
<path d="M1005.1,718.8 L1037.41,727.64 A33.5,33.5 0 0 1 1012.07,751.57 Z" fill="#d38af6"/>
<path d="M1005.1,718.8 L1012.07,751.57 A33.5,33.5 0 1 1 1038.60,718.80 Z" fill="#05a40f"/>
<path d="M1118,718.5 L1151.50,718.50 A33.5,33.5 0 0 1 1149.36,730.29 Z" fill="#8a8cf5"/>
<path d="M1118,718.5 L1149.36,730.29 A33.5,33.5 0 0 1 1115.84,751.93 Z" fill="#d38af6"/>
<path d="M1118,718.5 L1115.84,751.93 A33.5,33.5 0 1 1 1151.50,718.50 Z" fill="#05a40f"/>
<path d="M1230.5,718.5 L1264.00,718.50 A33.5,33.5 0 0 1 1263.78,722.29 Z" fill="#8a8cf5"/>
<path d="M1230.5,718.5 L1263.78,722.29 A33.5,33.5 0 1 1 1264.00,718.50 Z" fill="#05a40f"/>
<text x="1177.88" y="179.1" font-size="17.2" fill="#1e1e1e" text-anchor="start" font-weight="normal" font-style="italic" font-family="Liberation Sans, sans-serif" textLength="99.16" lengthAdjust="spacingAndGlyphs" stroke="#1e1e1e" stroke-width="0.2" >P. dactylifera</text>
<text x="835.32" y="287.8" font-size="17.2" fill="#1e1e1e" text-anchor="start" font-weight="normal" font-style="italic" font-family="Liberation Sans, sans-serif" textLength="103.13" lengthAdjust="spacingAndGlyphs" stroke="#1e1e1e" stroke-width="0.2" >E. guineensis</text>
<text x="968.16" y="287.7" font-size="17.2" fill="#1e1e1e" text-anchor="start" font-weight="normal" font-style="italic" font-family="Liberation Sans, sans-serif" textLength="66.97" lengthAdjust="spacingAndGlyphs" stroke="#1e1e1e" stroke-width="0.2" >O. sativa</text>
<text x="1084.6" y="287.6" font-size="17.2" fill="#1e1e1e" text-anchor="start" font-weight="normal" font-style="italic" font-family="Liberation Sans, sans-serif" textLength="66.4" lengthAdjust="spacingAndGlyphs" stroke="#1e1e1e" stroke-width="0.2" >P. edulis</text>
<text x="1197.6" y="287.6" font-size="17.2" fill="#1e1e1e" text-anchor="start" font-weight="normal" font-style="italic" font-family="Liberation Sans, sans-serif" textLength="64.46" lengthAdjust="spacingAndGlyphs" stroke="#1e1e1e" stroke-width="0.2" >S. italica</text>
<text x="850.2" y="403.5" font-size="17.2" fill="#1e1e1e" text-anchor="start" font-weight="normal" font-style="italic" font-family="Liberation Sans, sans-serif" textLength="71.31" lengthAdjust="spacingAndGlyphs" stroke="#1e1e1e" stroke-width="0.2" >S. bicolor</text>
<text x="971.4" y="403.5" font-size="17.2" fill="#1e1e1e" text-anchor="start" font-weight="normal" font-style="italic" font-family="Liberation Sans, sans-serif" textLength="60.93" lengthAdjust="spacingAndGlyphs" stroke="#1e1e1e" stroke-width="0.2" >Z. mays</text>
<text x="1078.56" y="403.9" font-size="17.2" fill="#1e1e1e" text-anchor="start" font-weight="normal" font-style="italic" font-family="Liberation Sans, sans-serif" textLength="79.43" lengthAdjust="spacingAndGlyphs" stroke="#1e1e1e" stroke-width="0.2" >S. indicum</text>
<text x="1176.6" y="403.9" font-size="17.2" fill="#1e1e1e" text-anchor="start" font-weight="normal" font-style="italic" font-family="Liberation Sans, sans-serif" textLength="121.0" lengthAdjust="spacingAndGlyphs" stroke="#1e1e1e" stroke-width="0.2" >S. lycopersicum</text>
<text x="872.16" y="528.6" font-size="17.2" fill="#1e1e1e" text-anchor="start" font-weight="normal" font-style="italic" font-family="Liberation Sans, sans-serif" textLength="31.62" lengthAdjust="spacingAndGlyphs" stroke="#1e1e1e" stroke-width="0.2" >I. nil</text>
<text x="977.14" y="528.6" font-size="17.2" fill="#1e1e1e" text-anchor="start" font-weight="normal" font-style="italic" font-family="Liberation Sans, sans-serif" textLength="60.31" lengthAdjust="spacingAndGlyphs" stroke="#1e1e1e" stroke-width="0.2" >I. triloba</text>
<text x="1078.88" y="528.6" font-size="17.2" fill="#1e1e1e" text-anchor="start" font-weight="normal" font-style="italic" font-family="Liberation Sans, sans-serif" textLength="80.15" lengthAdjust="spacingAndGlyphs" stroke="#1e1e1e" stroke-width="0.2" >A. thaliana</text>
<text x="1181.2" y="528.6" font-size="17.2" fill="#1e1e1e" text-anchor="start" font-weight="normal" font-style="italic" font-family="Liberation Sans, sans-serif" textLength="105.96" lengthAdjust="spacingAndGlyphs" stroke="#1e1e1e" stroke-width="0.2" >T. hassleriana</text>
<text x="829.12" y="649.7" font-size="17.2" fill="#1e1e1e" text-anchor="start" font-weight="normal" font-style="italic" font-family="Liberation Sans, sans-serif" textLength="109.15" lengthAdjust="spacingAndGlyphs" stroke="#1e1e1e" stroke-width="0.2" >C. illinoinensis</text>
<text x="977.36" y="649.7" font-size="17.2" fill="#1e1e1e" text-anchor="start" font-weight="normal" font-style="italic" font-family="Liberation Sans, sans-serif" textLength="54.65" lengthAdjust="spacingAndGlyphs" stroke="#1e1e1e" stroke-width="0.2" >J. regia</text>
<text x="1092.16" y="649.6" font-size="17.2" fill="#1e1e1e" text-anchor="start" font-weight="normal" font-style="italic" font-family="Liberation Sans, sans-serif" textLength="54.14" lengthAdjust="spacingAndGlyphs" stroke="#1e1e1e" stroke-width="0.2" >G. max</text>
<text x="1182.22" y="649.6" font-size="17.2" fill="#1e1e1e" text-anchor="start" font-weight="normal" font-style="italic" font-family="Liberation Sans, sans-serif" textLength="101.78" lengthAdjust="spacingAndGlyphs" stroke="#1e1e1e" stroke-width="0.2" >M. domestica</text>
<text x="838.28" y="776.4" font-size="17.2" fill="#1e1e1e" text-anchor="start" font-weight="normal" font-style="italic" font-family="Liberation Sans, sans-serif" textLength="95.53" lengthAdjust="spacingAndGlyphs" stroke="#1e1e1e" stroke-width="0.2" >M. esculenta</text>
<text x="954.56" y="776.4" font-size="17.2" fill="#1e1e1e" text-anchor="start" font-weight="normal" font-style="italic" font-family="Liberation Sans, sans-serif" textLength="103.63" lengthAdjust="spacingAndGlyphs" stroke="#1e1e1e" stroke-width="0.2" >P. trichocarpa</text>
<text x="1073.88" y="776.0" font-size="17.2" fill="#1e1e1e" text-anchor="start" font-weight="normal" font-style="italic" font-family="Liberation Sans, sans-serif" textLength="88.87" lengthAdjust="spacingAndGlyphs" stroke="#1e1e1e" stroke-width="0.2" >S. brachista</text>
<text x="1192.44" y="776.0" font-size="17.2" fill="#1e1e1e" text-anchor="start" font-weight="normal" font-style="italic" font-family="Liberation Sans, sans-serif" textLength="82.47" lengthAdjust="spacingAndGlyphs" stroke="#1e1e1e" stroke-width="0.2" >N. nucifera</text>
<path d="M1012.8,124.6 L981.8,124.6 A31,31 0 0 1 1012.8,93.6 Z" fill="#05a40f"/>
<path d="M1012.8,124.6 L1012.8,93.6 A31,31 0 0 1 1043.8,124.6 Z" fill="#d38af6"/>
<path d="M1012.8,124.6 L1043.8,124.6 A31,31 0 0 1 1012.8,155.6 Z" fill="#8a8cf5"/>
<path d="M1012.8,124.6 L1012.8,155.6 A31,31 0 0 1 981.8,124.6 Z" fill="#68e06a"/>
<line x1="941" y1="105.2" x2="941" y2="144.4" stroke="#111" stroke-width="1.5" />
<text x="130.46" y="47.5" font-size="14.6" fill="#222" text-anchor="start" font-weight="normal" font-style="normal" font-family="Liberation Sans, sans-serif" textLength="232.82" lengthAdjust="spacingAndGlyphs" stroke="#222" stroke-width="0.15" >Global Average Temperature (GAT)</text>
<text x="366.36" y="15.8" font-size="14.3" fill="#ff1f4a" text-anchor="start" font-weight="normal" font-style="normal" font-family="Liberation Sans, sans-serif" textLength="101.86" lengthAdjust="spacingAndGlyphs" stroke="#ff1f4a" stroke-width="0.15" >Asteroid impact</text>
<text x="407.28" y="77.6" font-size="14" fill="#222" text-anchor="start" font-weight="normal" font-style="normal" font-family="Liberation Sans, sans-serif" textLength="45.22" lengthAdjust="spacingAndGlyphs" stroke="#222" stroke-width="0.15" >Cooling</text>
<text x="452.02" y="55" font-size="14" fill="#222" text-anchor="start" font-weight="normal" font-style="normal" font-family="Liberation Sans, sans-serif" textLength="139.6" lengthAdjust="spacingAndGlyphs" stroke="#222" stroke-width="0.15" >Middle late eocene cooling</text>
<text x="527.4" y="100.5" font-size="13.5" fill="#222" text-anchor="start" font-weight="normal" font-style="normal" font-family="Liberation Sans, sans-serif" textLength="123" lengthAdjust="spacingAndGlyphs" stroke="#222" stroke-width="0.15" >Late cenozoic icehouse</text>
<text x="311.48" y="110.5" font-size="13.5" fill="#222" text-anchor="start" font-weight="normal" font-style="italic" font-family="Liberation Sans, sans-serif" textLength="98.0" lengthAdjust="spacingAndGlyphs" stroke="#222" stroke-width="0.15" >No polar icecaps</text>
<text x="315.58" y="133.8" font-size="13.5" fill="#222" text-anchor="start" font-weight="normal" font-style="italic" font-family="Liberation Sans, sans-serif" textLength="78.68" lengthAdjust="spacingAndGlyphs" stroke="#222" stroke-width="0.15" >Polar icecaps</text>
<text x="378.0" y="156.3" font-size="14" fill="#222" text-anchor="start" font-weight="normal" font-style="normal" font-family="Liberation Sans, sans-serif" textLength="111.21" lengthAdjust="spacingAndGlyphs" stroke="#222" stroke-width="0.15" >K-Pg impact winter</text>
<text x="664.28" y="58.5" font-size="14.3" fill="#222" text-anchor="start" font-weight="normal" font-style="normal" font-family="Liberation Sans, sans-serif" textLength="17.51" lengthAdjust="spacingAndGlyphs" stroke="#222" stroke-width="0.15" >30</text>
<text x="664.58" y="80" font-size="14.3" fill="#222" text-anchor="start" font-weight="normal" font-style="normal" font-family="Liberation Sans, sans-serif" textLength="17.03" lengthAdjust="spacingAndGlyphs" stroke="#222" stroke-width="0.15" >26</text>
<text x="663.8" y="101.6" font-size="14.3" fill="#222" text-anchor="start" font-weight="normal" font-style="normal" font-family="Liberation Sans, sans-serif" textLength="17.98" lengthAdjust="spacingAndGlyphs" stroke="#222" stroke-width="0.15" >22</text>
<text x="663.98" y="123.1" font-size="14.3" fill="#222" text-anchor="start" font-weight="normal" font-style="normal" font-family="Liberation Sans, sans-serif" textLength="16.29" lengthAdjust="spacingAndGlyphs" stroke="#222" stroke-width="0.15" >18</text>
<text x="663.98" y="143.7" font-size="14.3" fill="#222" text-anchor="start" font-weight="normal" font-style="normal" font-family="Liberation Sans, sans-serif" textLength="15.91" lengthAdjust="spacingAndGlyphs" stroke="#222" stroke-width="0.15" >14</text>
<text x="406.02" y="241" font-size="19.5" fill="#111" text-anchor="start" font-weight="bold" font-style="normal" font-family="Liberation Sans, sans-serif" textLength="80.12" lengthAdjust="spacingAndGlyphs" stroke="#111" stroke-width="0.15" >R1-WGD</text>
<text x="574.84" y="237.5" font-size="19.5" fill="#111" text-anchor="start" font-weight="bold" font-style="normal" font-family="Liberation Sans, sans-serif" textLength="78.81" lengthAdjust="spacingAndGlyphs" stroke="#111" stroke-width="0.15" >R2-WGD</text>
<text x="54.9" y="653.5" font-size="14.2" fill="#222" text-anchor="start" font-weight="normal" font-style="normal" font-family="Liberation Sans, sans-serif" textLength="169.03" lengthAdjust="spacingAndGlyphs" stroke="#222" stroke-width="0.15" >Whole-genome triplication</text>
<text x="55.08" y="676.2" font-size="14.2" fill="#222" text-anchor="start" font-weight="normal" font-style="normal" font-family="Liberation Sans, sans-serif" textLength="172.53" lengthAdjust="spacingAndGlyphs" stroke="#222" stroke-width="0.15" >Whole-genome duplication</text>
<text x="51.72" y="769.8" font-size="14.5" fill="#1a1a1a" text-anchor="start" font-weight="normal" font-style="normal" font-family="Liberation Sans, sans-serif" textLength="18.79" lengthAdjust="spacingAndGlyphs" stroke="#1a1a1a" stroke-width="0.15" >Ca</text>
<text x="79.92" y="769.8" font-size="14.5" fill="#1a1a1a" text-anchor="start" font-weight="normal" font-style="normal" font-family="Liberation Sans, sans-serif" textLength="18.34" lengthAdjust="spacingAndGlyphs" stroke="#1a1a1a" stroke-width="0.15" >Pe</text>
<text x="98.6" y="769.8" font-size="14.5" fill="#1a1a1a" text-anchor="start" font-weight="normal" font-style="normal" font-family="Liberation Sans, sans-serif" textLength="10.64" lengthAdjust="spacingAndGlyphs" stroke="#1a1a1a" stroke-width="0.15" >Tr</text>
<text x="118.5" y="769.8" font-size="14.5" fill="#1a1a1a" text-anchor="start" font-weight="normal" font-style="normal" font-family="Liberation Sans, sans-serif" textLength="48.7" lengthAdjust="spacingAndGlyphs" stroke="#1a1a1a" stroke-width="0.15" >Jurassic</text>
<text x="276.32" y="769.8" font-size="14.5" fill="#1a1a1a" text-anchor="start" font-weight="normal" font-style="normal" font-family="Liberation Sans, sans-serif" textLength="67.36" lengthAdjust="spacingAndGlyphs" stroke="#1a1a1a" stroke-width="0.15" >Cretaceous</text>
<text x="480.24" y="769.8" font-size="14.5" fill="#1a1a1a" text-anchor="start" font-weight="normal" font-style="normal" font-family="Liberation Sans, sans-serif" textLength="63.26" lengthAdjust="spacingAndGlyphs" stroke="#1a1a1a" stroke-width="0.15" >Paleogene</text>
<text x="583.92" y="769.8" font-size="14.5" fill="#1a1a1a" text-anchor="start" font-weight="normal" font-style="normal" font-family="Liberation Sans, sans-serif" textLength="60.36" lengthAdjust="spacingAndGlyphs" stroke="#1a1a1a" stroke-width="0.15" >Neogene</text>
<text x="644.36" y="769.8" font-size="14.5" fill="#1a1a1a" text-anchor="start" font-weight="normal" font-style="normal" font-family="Liberation Sans, sans-serif" textLength="14.18" lengthAdjust="spacingAndGlyphs" stroke="#1a1a1a" stroke-width="0.15" >Qt</text>
<text x="64.2" y="807.5" font-size="18" fill="#222" text-anchor="start" font-weight="normal" font-style="normal" font-family="Liberation Sans, sans-serif" textLength="29.08" lengthAdjust="spacingAndGlyphs" stroke="#222" stroke-width="0.15" >310</text>
<text x="101.76" y="808.4" font-size="18" fill="#222" text-anchor="start" font-weight="normal" font-style="normal" font-family="Liberation Sans, sans-serif" textLength="28.28" lengthAdjust="spacingAndGlyphs" stroke="#222" stroke-width="0.15" >180</text>
<text x="177.86" y="808.4" font-size="18" fill="#222" text-anchor="start" font-weight="normal" font-style="normal" font-family="Liberation Sans, sans-serif" textLength="27.99" lengthAdjust="spacingAndGlyphs" stroke="#222" stroke-width="0.15" >140</text>
<text x="243.6" y="808.5" font-size="18" fill="#222" text-anchor="start" font-weight="normal" font-style="normal" font-family="Liberation Sans, sans-serif" textLength="29.8" lengthAdjust="spacingAndGlyphs" stroke="#222" stroke-width="0.15" >120</text>
<text x="310.4" y="808.5" font-size="18" fill="#222" text-anchor="start" font-weight="normal" font-style="normal" font-family="Liberation Sans, sans-serif" textLength="28.98" lengthAdjust="spacingAndGlyphs" stroke="#222" stroke-width="0.15" >100</text>
<text x="383.58" y="808.5" font-size="18" fill="#222" text-anchor="start" font-weight="normal" font-style="normal" font-family="Liberation Sans, sans-serif" textLength="19.7" lengthAdjust="spacingAndGlyphs" stroke="#222" stroke-width="0.15" >80</text>
<text x="449.06" y="808.5" font-size="18" fill="#222" text-anchor="start" font-weight="normal" font-style="normal" font-family="Liberation Sans, sans-serif" textLength="20.12" lengthAdjust="spacingAndGlyphs" stroke="#222" stroke-width="0.15" >60</text>
<text x="516.48" y="808.5" font-size="18" fill="#222" text-anchor="start" font-weight="normal" font-style="normal" font-family="Liberation Sans, sans-serif" textLength="19.09" lengthAdjust="spacingAndGlyphs" stroke="#222" stroke-width="0.15" >40</text>
<text x="579.8" y="808.5" font-size="18" fill="#222" text-anchor="start" font-weight="normal" font-style="normal" font-family="Liberation Sans, sans-serif" textLength="20.73" lengthAdjust="spacingAndGlyphs" stroke="#222" stroke-width="0.15" >20</text>
<text x="654.44" y="808.5" font-size="18" fill="#222" text-anchor="start" font-weight="normal" font-style="normal" font-family="Liberation Sans, sans-serif" textLength="9.62" lengthAdjust="spacingAndGlyphs" stroke="#222" stroke-width="0.15" >0</text>
<text x="271.5" y="828.9" font-size="19" fill="#222" text-anchor="start" font-weight="normal" font-style="normal" font-family="Liberation Sans, sans-serif" textLength="199.94" lengthAdjust="spacingAndGlyphs" stroke="#222" stroke-width="0.15" >Million years ago (Ma)</text>
<text x="947.52" y="59.8" font-size="20.5" fill="#111" text-anchor="start" font-weight="bold" font-style="normal" font-family="Liberation Sans, sans-serif" textLength="226.13" lengthAdjust="spacingAndGlyphs" stroke="#111" stroke-width="0.15" >WGD-derived duplicates</text>
<text x="884.2" y="128.6" font-size="14.3" fill="#111" text-anchor="start" font-weight="bold" font-style="normal" font-family="Liberation Sans, sans-serif" textLength="51.57" lengthAdjust="spacingAndGlyphs" stroke="#111" stroke-width="0.15" >R-WGD</text>
<text x="946.56" y="115.8" font-size="14.3" fill="#111" text-anchor="start" font-weight="bold" font-style="normal" font-family="Liberation Sans, sans-serif" textLength="58.84" lengthAdjust="spacingAndGlyphs" stroke="#111" stroke-width="0.15" >R1-WGD</text>
<text x="946.56" y="146.5" font-size="14.3" fill="#111" text-anchor="start" font-weight="bold" font-style="normal" font-family="Liberation Sans, sans-serif" textLength="58.84" lengthAdjust="spacingAndGlyphs" stroke="#111" stroke-width="0.15" >R2-WGD</text>
<text x="1023.8" y="115.8" font-size="13.5" fill="#333" text-anchor="start" font-weight="normal" font-style="normal" font-family="Liberation Serif, serif" textLength="67.79" lengthAdjust="spacingAndGlyphs" >τ/σ/γ-WGD</text>
<text x="1022.84" y="146.5" font-size="13.5" fill="#333" text-anchor="start" font-weight="normal" font-style="normal" font-family="Liberation Serif, serif" textLength="56.45" lengthAdjust="spacingAndGlyphs" >ζ/ε-WGD</text>
<text x="7.48" y="28.5" font-size="20" fill="#111" text-anchor="start" font-weight="bold" font-style="normal" font-family="Liberation Sans, sans-serif" textLength="25.43" lengthAdjust="spacingAndGlyphs" >(a)</text>
<text x="834.32" y="28.5" font-size="20" fill="#111" text-anchor="start" font-weight="bold" font-style="normal" font-family="Liberation Sans, sans-serif" textLength="27.67" lengthAdjust="spacingAndGlyphs" >(b)</text>
</svg></body></html>
